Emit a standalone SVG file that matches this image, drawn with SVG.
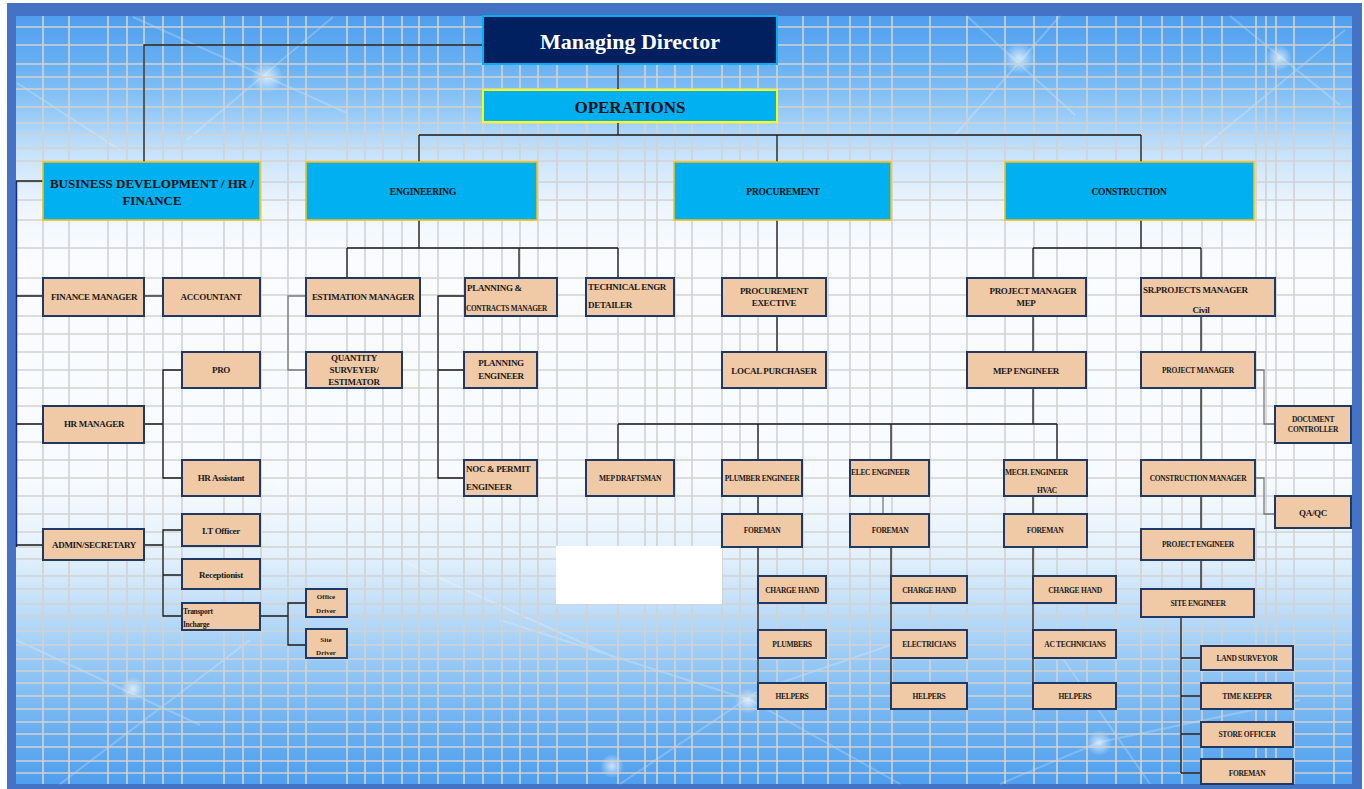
<svg xmlns="http://www.w3.org/2000/svg" width="1364" height="789" viewBox="0 0 1364 789">
<defs>
<linearGradient id="bg" x1="0" y1="16" x2="0" y2="784" gradientUnits="userSpaceOnUse">
<stop offset="0" stop-color="#4f9fee"/>
<stop offset="0.06" stop-color="#66aff2"/>
<stop offset="0.12" stop-color="#92c8f6"/>
<stop offset="0.18" stop-color="#c8e3fa"/>
<stop offset="0.25" stop-color="#eef6fd"/>
<stop offset="0.32" stop-color="#fafcff"/>
<stop offset="0.6" stop-color="#f7fbff"/>
<stop offset="0.7" stop-color="#e4f1fc"/>
<stop offset="0.77" stop-color="#c0def8"/>
<stop offset="0.85" stop-color="#92c6f4"/>
<stop offset="0.93" stop-color="#6aaff0"/>
<stop offset="1" stop-color="#4e9fee"/>
</linearGradient>
<radialGradient id="glow">
<stop offset="0" stop-color="#ffffff" stop-opacity="0.7"/>
<stop offset="1" stop-color="#ffffff" stop-opacity="0"/>
</radialGradient>
<style>
.n rect{fill:#F0C9A6;stroke:#1F3864;stroke-width:2}
.t{font-family:"Liberation Serif","Times New Roman",serif;font-weight:bold;fill:#1a1a1a;font-size:9px;letter-spacing:-0.3px}
.m{text-anchor:middle}
.s{font-size:7.5px}
.xs{font-size:7px;letter-spacing:0}
.h rect{fill:#00B0F0;stroke:#FFC000;stroke-width:1.5}
.ht{font-family:"Liberation Serif","Times New Roman",serif;font-weight:bold;fill:#111;font-size:9.5px;letter-spacing:-0.2px;text-anchor:middle}
.c path{stroke:#1a1a1a;stroke-width:1.3;fill:none}
.c path.g{stroke:#7a7a7a}
.c path.b{stroke:#1a2a8a;stroke-width:1.5}
</style>
</defs>
<rect x="0" y="0" width="1364" height="789" fill="#ffffff"/>
<rect x="7" y="3" width="1355" height="786" fill="#4472C4"/>
<rect x="16" y="16" width="1336" height="768" fill="url(#bg)"/>
<g id="decor" fill="none" stroke="#ffffff" stroke-opacity="0.22" stroke-width="2">
<path d="M133 17L347 113M333 17L187 140M17 83L120 150M967 16L1075 115M1060 16L955 135M1230 16L1340 105M1345 30L1200 150"/>
<path d="M16 640L200 725M60 784L250 640M500 620L750 700L900 784M620 784L760 690L905 640M1000 784L1100 742L1300 700M1050 640L1150 784M400 560L620 660"/>
</g>
<g id="glows">
<circle cx="267" cy="77" r="16" fill="url(#glow)"/>
<circle cx="1019" cy="58" r="16" fill="url(#glow)"/>
<circle cx="1279" cy="58" r="13" fill="url(#glow)"/>
<circle cx="748" cy="701" r="13" fill="url(#glow)"/>
<circle cx="612" cy="766" r="12" fill="url(#glow)"/>
<circle cx="1099" cy="743" r="13" fill="url(#glow)"/>
<circle cx="133" cy="689" r="12" fill="url(#glow)"/>
</g>
<path id="grid" fill="none" stroke="#d2d2d2" stroke-width="1.6" d="M43 16V784M69 16V784M108 16V784M127 16V784M144 16V784M163 16V784M182 16V784M224 16V784M243 16V784M261 16V784M288 16V784M306 16V784M347 16V784M365 16V784M383 16V784M402 16V784M419 16V784M438 16V784M464 16V784M483 16V784M502 16V784M520 16V784M538 16V784M557 16V784M587 16V784M618 16V784M645 16V784M657 16V784M675 16V784M692 16V784M722 16V784M740 16V784M758 16V784M777 16V784M803 16V784M828 16V784M850 16V784M870 16V784M892 16V784M930 16V784M967 16V784M1005 16V784M1034 16V784M1057 16V784M1087 16V784M1116 16V784M1141 16V784M1162 16V784M1182 16V784M1202 16V784M1222 16V784M1256 16V784M1266 16V784M1276 16V784M1294 16V784M1334 16V784M16 27H1352M16 45H1352M16 64H1352M16 77H1352M16 89H1352M16 107H1352M16 123H1352M16 135H1352M16 148H1352M16 161H1352M16 182H1352M16 200H1352M16 220H1352M16 248H1352M16 278H1352M16 295H1352M16 316H1352M16 334H1352M16 352H1352M16 370H1352M16 388H1352M16 406H1352M16 424H1352M16 442H1352M16 460H1352M16 478H1352M16 496H1352M16 514H1352M16 532H1352M16 547H1352M16 559H1352M16 576H1352M16 589H1352M16 604H1352M16 616H1352M16 631H1352M16 645H1352M16 659H1352M16 671H1352M16 683H1352M16 696H1352M16 709H1352M16 722H1352M16 734H1352M16 747H1352M16 761H1352M16 773H1352"/>
<rect x="556" y="546" width="166" height="58" fill="#ffffff"/>

<g id="connectors" class="c">
<path d="M618 64V90M618 122V135M419 135H1141M419 135V162M777 135V162M1141 135V162"/>
<path d="M483 45H144V162"/>
<path class="b" d="M16.5 181V547"/>
<path d="M16 181H43M16 296H43M16 424H43M16 545H43"/>
<path d="M144 296H163"/>
<path d="M144 424H163M182 370H163V478H182"/>
<path d="M144 545H163M182 530H163V616H182M163 575H182"/>
<path d="M260 616H288M306 603H288V645H306"/>
<path d="M419 220V248M347 248H618M347 248V278M519 248V278M618 248V278"/>
<path class="g" d="M306 296H288V370H306"/>
<path d="M465 296H438V478H464M438 370H464"/>
<path d="M777 220V278M777 316V352"/>
<path d="M1141 220V248M1033 248H1201M1033 248V278M1201 248V278"/>
<path d="M1033 316V352M1033 388V424M618 424H1057M618 424V460M758 424V460M891 424V460M1057 424V460"/>
<path d="M758 496V514M1033 496V514"/>
<path class="g" d="M883 496V514"/>
<path d="M758 547V709M891 547V709M1033 547V683"/>
<path d="M1201 316V352M1201 388V460M1201 496V529M1201 560V589"/>
<path class="g" d="M1255 370H1264V424H1275M1255 478H1264V514H1275"/>
<path d="M1181 617V773M1181 658H1201M1181 696H1201M1181 734H1201M1181 773H1201"/>
</g>

<g id="md"><rect x="483" y="16" width="294" height="48" fill="#002060" stroke="#00B0F0" stroke-width="2"/><text x="630" y="49" font-family="Liberation Serif, Times New Roman, serif" font-weight="bold" font-size="22" fill="#ffffff" text-anchor="middle">Managing Director</text></g>
<g id="ops"><rect x="483" y="90" width="294" height="32" fill="#00B0F0" stroke="#FFFF00" stroke-width="2"/><text x="630" y="113" font-family="Liberation Serif, Times New Roman, serif" font-weight="bold" font-size="17" fill="#111" text-anchor="middle">OPERATIONS</text></g>
<g id="bd" class="h"><rect x="43" y="162" width="217" height="58"/><text x="152" y="188" class="ht" style="font-size:13px;letter-spacing:0">BUSINESS DEVELOPMENT / HR /</text><text x="152" y="205" class="ht" style="font-size:13px;letter-spacing:0">FINANCE</text></g>
<g id="eng" class="h"><rect x="306" y="162" width="231" height="58"/><text x="423" y="195" class="ht">ENGINEERING</text></g>
<g id="proc" class="h"><rect x="674" y="162" width="217" height="58"/><text x="783" y="195" class="ht">PROCUREMENT</text></g>
<g id="cons" class="h"><rect x="1005" y="162" width="249" height="58"/><text x="1129" y="195" class="ht">CONSTRUCTION</text></g>

<g id="finmgr" class="n"><rect x="43" y="278" width="101" height="38"/><text x="94" y="300" class="t m">FINANCE MANAGER</text></g>
<g id="accountant" class="n"><rect x="163" y="278" width="97" height="38"/><text x="211" y="300" class="t m">ACCOUNTANT</text></g>
<g id="estmgr" class="n"><rect x="306" y="278" width="114" height="38"/><text x="363" y="300" class="t m">ESTIMATION MANAGER</text></g>
<g id="qs" class="n"><rect x="306" y="352" width="96" height="36"/><text x="354" y="361" class="t m">QUANTITY</text><text x="354" y="373" class="t m">SURVEYER/</text><text x="354" y="385" class="t m">ESTIMATOR</text></g>
<g id="plancont" class="n"><rect x="465" y="278" width="92" height="38"/><text x="467" y="291" class="t">PLANNING &amp;</text><text x="466" y="311" class="t" style="font-size:7.3px">CONTRACTS MANAGER</text></g>
<g id="techengr" class="n"><rect x="586" y="278" width="88" height="38"/><text x="588" y="290" class="t">TECHNICAL ENGR</text><text x="588" y="308" class="t">DETAILER</text></g>
<g id="procexec" class="n"><rect x="722" y="278" width="104" height="38"/><text x="774" y="294" class="t m">PROCUREMENT</text><text x="774" y="306" class="t m">EXECTIVE</text></g>
<g id="localpur" class="n"><rect x="722" y="352" width="104" height="36"/><text x="774" y="374" class="t m">LOCAL PURCHASER</text></g>
<g id="pmmep" class="n"><rect x="967" y="278" width="119" height="38"/><text x="1033" y="294" class="t m">PROJECT MANAGER</text><text x="1026" y="306" class="t m">MEP</text></g>
<g id="srpm" class="n"><rect x="1141" y="278" width="134" height="38"/><text x="1143" y="293" class="t">SR.PROJECTS MANAGER</text><text x="1201" y="313" class="t m">Civil</text></g>
<g id="pro" class="n"><rect x="182" y="352" width="78" height="36"/><text x="221" y="373" class="t m">PRO</text></g>
<g id="hrmgr" class="n"><rect x="43" y="406" width="101" height="37"/><text x="94" y="427" class="t m">HR MANAGER</text></g>
<g id="planeng" class="n"><rect x="464" y="352" width="73" height="36"/><text x="501" y="366" class="t m">PLANNING</text><text x="501" y="379" class="t m">ENGINEER</text></g>
<g id="mepeng" class="n"><rect x="967" y="352" width="119" height="36"/><text x="1026" y="374" class="t m">MEP ENGINEER</text></g>
<g id="pmcivil" class="n"><rect x="1141" y="352" width="114" height="36"/><text x="1198" y="373" class="t m s">PROJECT MANAGER</text></g>
<g id="doc" class="n"><rect x="1275" y="406" width="76" height="37"/><text x="1313" y="422" class="t m s">DOCUMENT</text><text x="1313" y="432" class="t m s">CONTROLLER</text></g>
<g id="hrasst" class="n"><rect x="182" y="460" width="78" height="36"/><text x="221" y="481" class="t m">HR Assistant</text></g>
<g id="noc" class="n"><rect x="464" y="460" width="73" height="36"/><text x="466" y="472" class="t">NOC &amp; PERMIT</text><text x="466" y="490" class="t">ENGINEER</text></g>
<g id="mepdraft" class="n"><rect x="586" y="460" width="88" height="36"/><text x="630" y="481" class="t m s">MEP DRAFTSMAN</text></g>
<g id="plumbeng" class="n"><rect x="722" y="460" width="80" height="36"/><text x="762" y="481" class="t m s">PLUMBER ENGINEER</text></g>
<g id="eleceng" class="n"><rect x="850" y="460" width="79" height="36"/><text x="851" y="475" class="t s">ELEC ENGINEER</text></g>
<g id="mecheng" class="n"><rect x="1004" y="460" width="83" height="36"/><text x="1005" y="475" class="t s">MECH. ENGINEER</text><text x="1047" y="493" class="t m s">HVAC</text></g>
<g id="consmgr" class="n"><rect x="1141" y="460" width="114" height="36"/><text x="1198" y="481" class="t m s">CONSTRUCTION MANAGER</text></g>
<g id="qaqc" class="n"><rect x="1275" y="496" width="76" height="32"/><text x="1313" y="516" class="t m">QA/QC</text></g>
<g id="admin" class="n"><rect x="43" y="529" width="101" height="31"/><text x="94" y="548" class="t m">ADMIN/SECRETARY</text></g>
<g id="itofficer" class="n"><rect x="182" y="514" width="78" height="32"/><text x="221" y="534" class="t m">I.T Officer</text></g>
<g id="foreman1" class="n"><rect x="722" y="514" width="80" height="33"/><text x="762" y="533" class="t m s">FOREMAN</text></g>
<g id="foreman2" class="n"><rect x="850" y="514" width="79" height="33"/><text x="890" y="533" class="t m s">FOREMAN</text></g>
<g id="foreman3" class="n"><rect x="1004" y="514" width="83" height="33"/><text x="1045" y="533" class="t m s">FOREMAN</text></g>
<g id="projeng" class="n"><rect x="1141" y="529" width="113" height="31"/><text x="1198" y="547" class="t m s">PROJECT ENGINEER</text></g>
<g id="recept" class="n"><rect x="182" y="559" width="78" height="30"/><text x="221" y="578" class="t m">Receptionist</text></g>
<g id="charge1" class="n"><rect x="758" y="576" width="68" height="27"/><text x="792" y="593" class="t m s">CHARGE HAND</text></g>
<g id="charge2" class="n"><rect x="891" y="576" width="76" height="27"/><text x="929" y="593" class="t m s">CHARGE HAND</text></g>
<g id="charge3" class="n"><rect x="1033" y="576" width="83" height="27"/><text x="1075" y="593" class="t m s">CHARGE HAND</text></g>
<g id="siteeng" class="n"><rect x="1141" y="589" width="113" height="28"/><text x="1198" y="606" class="t m s">SITE ENGINEER</text></g>
<g id="transport" class="n"><rect x="182" y="603" width="78" height="27"/><text x="183" y="614" class="t s">Transport</text><text x="183" y="627" class="t s">Incharge</text></g>
<g id="officedriver" class="n"><rect x="306" y="589" width="41" height="28"/><text x="326" y="599" class="t m xs">Office</text><text x="326" y="613" class="t m xs">Driver</text></g>
<g id="sitedriver" class="n"><rect x="306" y="629" width="41" height="29"/><text x="326" y="642" class="t m xs">Site</text><text x="326" y="655" class="t m xs">Driver</text></g>
<g id="plumbers" class="n"><rect x="758" y="630" width="68" height="28"/><text x="792" y="647" class="t m s">PLUMBERS</text></g>
<g id="electricians" class="n"><rect x="891" y="630" width="76" height="28"/><text x="929" y="647" class="t m s">ELECTRICIANS</text></g>
<g id="actech" class="n"><rect x="1033" y="630" width="83" height="28"/><text x="1075" y="647" class="t m s">AC TECHNICIANS</text></g>
<g id="landsurv" class="n"><rect x="1201" y="646" width="92" height="24"/><text x="1247" y="661" class="t m s">LAND SURVEYOR</text></g>
<g id="helpers1" class="n"><rect x="758" y="683" width="68" height="26"/><text x="792" y="699" class="t m s">HELPERS</text></g>
<g id="helpers2" class="n"><rect x="891" y="683" width="76" height="26"/><text x="929" y="699" class="t m s">HELPERS</text></g>
<g id="helpers3" class="n"><rect x="1033" y="683" width="83" height="26"/><text x="1075" y="699" class="t m s">HELPERS</text></g>
<g id="timekeeper" class="n"><rect x="1201" y="683" width="92" height="26"/><text x="1247" y="699" class="t m s">TIME KEEPER</text></g>
<g id="storeofficer" class="n"><rect x="1201" y="722" width="92" height="25"/><text x="1247" y="737" class="t m s">STORE OFFICER</text></g>
<g id="foreman4" class="n"><rect x="1201" y="759" width="92" height="25"/><text x="1247" y="776" class="t m s">FOREMAN</text></g>
</svg>
